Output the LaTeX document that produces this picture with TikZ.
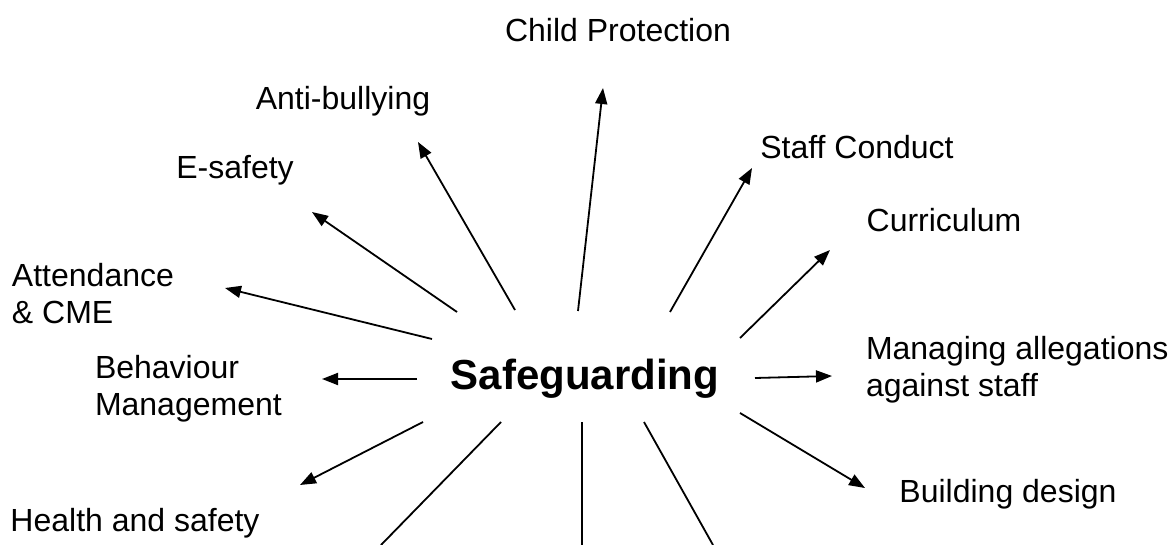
\documentclass[tikz,border=0pt]{standalone}
\usepackage{fontspec}
\setmainfont{Liberation Sans}
\usetikzlibrary{arrows.meta}
\begin{document}
\begin{tikzpicture}[x=1pt,y=-1pt,
  lbl/.style={inner sep=0pt,outer sep=0pt,font=\fontsize{32}{37.5}\selectfont},
  ml/.style={lbl,align=left,anchor=base west},
  sl/.style={lbl,anchor=base},
  conn/.style={line width=1.8pt,-{Triangle[length=16pt,width=12pt]}},
  plain/.style={line width=1.8pt}]
\useasboundingbox (0,0) rectangle (1176,545);
\node[lbl,font=\fontsize{42}{48}\selectfont\bfseries,anchor=base] (sg) at (585,389) {Safeguarding};
\node[sl] (cp) at (618,42) {Child Protection};
\node[sl] (ab) at (343,110) {Anti-bullying};
\node[sl] (sc) at (857,159) {Staff Conduct};
\node[sl] (es) at (235,179) {E-safety};
\node[sl] (cu) at (944,232) {Curriculum};
\node[ml] (at) at (12,324) {Attendance\\\& CME};
\node[ml] (bm) at (95,416) {Behaviour\\Management};
\node[ml] (ma) at (866,397) {Managing allegations\\against staff};
\node[sl] (bd) at (1008,502) {Building design};
\node[sl] (hs) at (135,531) {Health and safety};
% coordinates
\coordinate (s1) at (578,311); \coordinate (t1) at (603,88);
\coordinate (s2) at (515,310); \coordinate (t2) at (418,142);
\coordinate (s3) at (670,312); \coordinate (t3) at (752,168);
\coordinate (s4) at (457,312); \coordinate (t4) at (312,212);
\coordinate (s5) at (740,338); \coordinate (t5) at (830,250);
\coordinate (s6) at (432,339); \coordinate (t6) at (225,288);
\coordinate (s7) at (417,379); \coordinate (t7) at (322,379);
\coordinate (s8) at (755,378); \coordinate (t8) at (832,376);
\coordinate (s9) at (740,413); \coordinate (t9) at (865,488);
\coordinate (s10) at (423,422); \coordinate (t10) at (300,485);
\coordinate (s11) at (501,422); \coordinate (e11) at (381,545);
\coordinate (s12) at (582,422); \coordinate (e12) at (582,545);
\coordinate (s13) at (644,422); \coordinate (e13) at (713,545);
\foreach \i in {1,...,10} \draw[conn] (s\i) -- (t\i);
\foreach \i in {11,12,13} \draw[plain] (s\i) -- (e\i);
\end{tikzpicture}
\end{document}
